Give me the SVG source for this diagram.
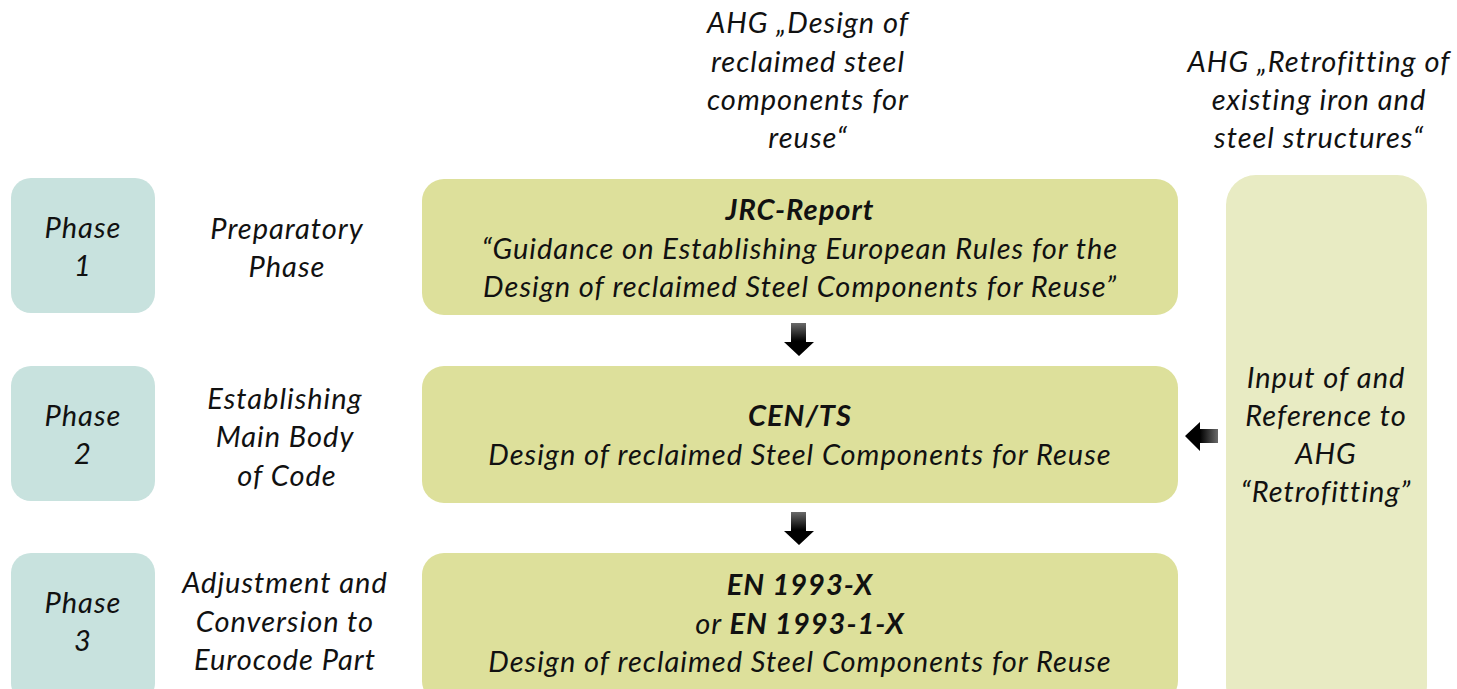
<svg xmlns="http://www.w3.org/2000/svg" width="1457" height="689" viewBox="0 0 1457 689">
  <defs>
    <style>
      text { font-family: Lato, "Open Sans", "Liberation Sans", sans-serif; font-style: italic; font-size: 29px; letter-spacing: 1px; fill: #111; text-anchor: middle; }
      .b { font-weight: bold; }
      .phase { fill: #c8e2de; }
      .main { fill: #dde09b; }
      .side { fill: #e8ebc3; }
    </style>
    <linearGradient id="gDown" x1="0" y1="0" x2="0" y2="1">
      <stop offset="0" stop-color="#6a6a6a"/>
      <stop offset="0.55" stop-color="#000"/>
      <stop offset="1" stop-color="#000"/>
    </linearGradient>
    <linearGradient id="gLeft" x1="0" y1="0" x2="1" y2="0">
      <stop offset="0" stop-color="#000"/>
      <stop offset="0.45" stop-color="#000"/>
      <stop offset="1" stop-color="#6a6a6a"/>
    </linearGradient>
  </defs>

  <!-- top labels -->
  <g id="label-ahg-design">
    <text x="808" y="33">AHG „Design of</text>
    <text x="808" y="72">reclaimed steel</text>
    <text x="808" y="110">components for</text>
    <text x="808" y="148">reuse“</text>
  </g>
  <g id="label-ahg-retrofit">
    <text x="1319" y="72">AHG „Retrofitting of</text>
    <text x="1319" y="110">existing iron and</text>
    <text x="1319" y="148">steel structures“</text>
  </g>

  <!-- phase markers -->
  <g id="phase1">
    <rect class="phase" x="11" y="178" width="144" height="135" rx="20"/>
    <text x="83" y="238">Phase</text>
    <text x="83" y="276">1</text>
  </g>
  <g id="phase2">
    <rect class="phase" x="11" y="366" width="144" height="135" rx="20"/>
    <text x="83" y="426">Phase</text>
    <text x="83" y="464">2</text>
  </g>
  <g id="phase3">
    <rect class="phase" x="11" y="553" width="144" height="150" rx="20"/>
    <text x="83" y="613">Phase</text>
    <text x="83" y="651">3</text>
  </g>

  <!-- phase descriptions -->
  <g id="desc1">
    <text x="287" y="239">Preparatory</text>
    <text x="287" y="277">Phase</text>
  </g>
  <g id="desc2">
    <text x="285" y="409">Establishing</text>
    <text x="285" y="447">Main Body</text>
    <text x="287" y="486">of Code</text>
  </g>
  <g id="desc3">
    <text x="285" y="593">Adjustment and</text>
    <text x="285" y="632">Conversion to</text>
    <text x="285" y="670">Eurocode Part</text>
  </g>

  <!-- main documents -->
  <g id="jrc-report">
    <rect class="main" x="422" y="179" width="756" height="136" rx="22"/>
    <text class="b" x="800" y="220">JRC-Report</text>
    <text x="800" y="259">“Guidance on Establishing European Rules for the</text>
    <text x="800" y="297">Design of reclaimed Steel Components for Reuse”</text>
  </g>
  <g id="cen-ts">
    <rect class="main" x="422" y="366" width="756" height="137" rx="22"/>
    <text class="b" x="800" y="426">CEN/TS</text>
    <text x="800" y="465">Design of reclaimed Steel Components for Reuse</text>
  </g>
  <g id="en1993">
    <rect class="main" x="422" y="553" width="756" height="150" rx="22"/>
    <text class="b" x="800" y="595">EN 1993-X</text>
    <text x="800" y="634">or <tspan class="b">EN 1993-1-X</tspan></text>
    <text x="800" y="672">Design of reclaimed Steel Components for Reuse</text>
  </g>

  <!-- side reference -->
  <g id="ahg-retrofitting">
    <rect class="side" x="1226" y="175" width="201" height="540" rx="30"/>
    <text x="1326" y="388">Input of and</text>
    <text x="1326" y="426">Reference to</text>
    <text x="1326" y="464">AHG</text>
    <text x="1326" y="502">“Retrofitting”</text>
  </g>

  <!-- connectors -->
  <g id="connectors">
    <polygon fill="url(#gDown)" points="791,323 806,323 806,342 814,342 799,356 784,342 791,342"/>
    <polygon fill="url(#gDown)" points="791,512 806,512 806,531 814,531 799,545 784,531 791,531"/>
    <polygon fill="url(#gLeft)" points="1218,429 1218,443 1200,443 1200,451 1185,436 1200,422 1200,429"/>
  </g>
</svg>
